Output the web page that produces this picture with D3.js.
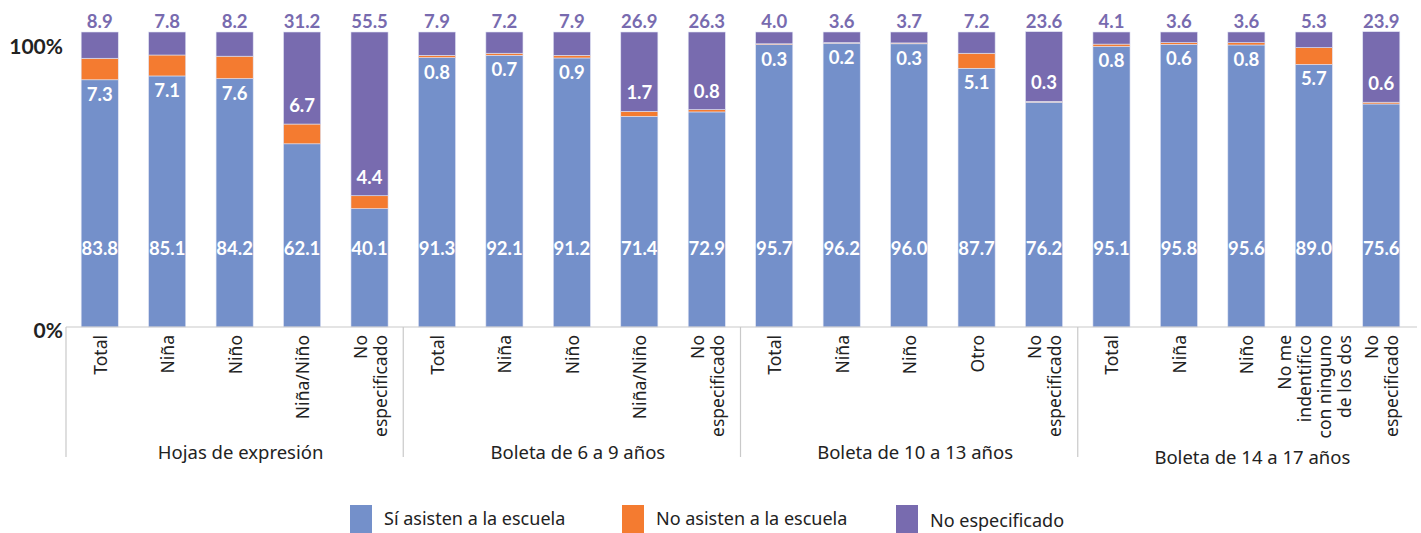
<!DOCTYPE html>
<html lang="es">
<head>
<meta charset="UTF-8">
<title>Asistencia escolar por sexo</title>
<script src="https://d3js.org/d3.v7.min.js"></script>
<style>
    body { margin: 0; background: #fff; }
    .num { font-family: Lato, "Noto Sans", sans-serif; font-weight: 700; }
    .cat { font-family: "Noto Sans", "Open Sans", sans-serif; font-size: 17.5px; fill: #222; }
    .grp { font-family: "Noto Sans", "Open Sans", sans-serif; font-size: 18.5px; fill: #222; }
    .leg { font-family: "Noto Sans", sans-serif; font-size: 18px; fill: #222; }
</style>
</head>
<body>
<svg id="chart"></svg>
<script>
    // groups of the survey and the categories inside each group
    const groups = ['Hojas de expresión', 'Boleta de 6 a 9 años', 'Boleta de 10 a 13 años', 'Boleta de 14 a 17 años'];
    const categories = [
        ['Total', 'Niña', 'Niño', 'Niña/Niño', 'No|especificado'],
        ['Total', 'Niña', 'Niño', 'Niña/Niño', 'No|especificado'],
        ['Total', 'Niña', 'Niño', 'Otro', 'No|especificado'],
        ['Total', 'Niña', 'Niño', 'No me|indentifico|con ninguno|de los dos', 'No|especificado']
    ];

    // percentages, one entry per bar (same order as categories)
    const siAsisten = [83.8, 85.1, 84.2, 62.1, 40.1, 91.3, 92.1, 91.2, 71.4, 72.9, 95.7, 96.2, 96.0, 87.7, 76.2, 95.1, 95.8, 95.6, 89.0, 75.6];
    const noAsisten = [7.3, 7.1, 7.6, 6.7, 4.4, 0.8, 0.7, 0.9, 1.7, 0.8, 0.3, 0.2, 0.3, 5.1, 0.3, 0.8, 0.6, 0.8, 5.7, 0.6];
    const noEspecificado = [8.9, 7.8, 8.2, 31.2, 55.5, 7.9, 7.2, 7.9, 26.9, 26.3, 4.0, 3.6, 3.7, 7.2, 23.6, 4.1, 3.6, 3.6, 5.3, 23.9];

    const seriesNames = ['Sí asisten a la escuela', 'No asisten a la escuela', 'No especificado'];
    const colors = ['#7490CA', '#F47B30', '#786BAF'];

    const width = 1421, height = 533;
    const svg = d3.select('#chart').attr('width', width).attr('height', height);

    // build rows for the stack
    const rows = [];
    categories.forEach((cats, gi) => {
        cats.forEach((c, ci) => {
            const i = rows.length;
            rows.push({ key: gi + '-' + ci, group: gi, label: c, si: siAsisten[i], no: noAsisten[i], ne: noEspecificado[i] });
        });
    });

    const x = d3.scaleBand().domain(rows.map(d => d.key)).range([66, 1415]).paddingInner(0.45).paddingOuter(0.225);
    const y = d3.scaleLinear().domain([0, 100]).range([327, 32]);
    const color = d3.scaleOrdinal().domain(['si', 'no', 'ne']).range(colors);

    const stack = d3.stack().keys(['si', 'no', 'ne']);
    const stacked = stack(rows);

    // bars
    svg.append('g').selectAll('g')
        .data(stacked)
        .join('g')
        .attr('fill', d => color(d.key))
        .selectAll('rect')
        .data(d => d)
        .join('rect')
        .attr('x', d => x(d.data.key))
        .attr('width', x.bandwidth())
        .attr('y', d => y(d[1]))
        .attr('height', d => y(d[0]) - y(d[1]))
        .attr('stroke', '#dfe3f3')
        .attr('stroke-width', 0.6);

    // axis line at 0%
    svg.append('line')
        .attr('x1', 66).attr('x2', 1417)
        .attr('y1', y(0)).attr('y2', y(0))
        .attr('stroke', '#c9c9c9').attr('stroke-width', 1.2);

    // group separators
    const groupStarts = groups.map((g, gi) => x(gi + '-0') - x.step() * x.paddingOuter());
    svg.append('g').selectAll('line')
        .data(groupStarts)
        .join('line')
        .attr('x1', d => d).attr('x2', d => d)
        .attr('y1', y(0)).attr('y2', 457)
        .attr('stroke', '#c9c9c9').attr('stroke-width', 1.2);

    // y tick labels
    svg.append('text').attr('class', 'num').attr('x', 63).attr('y', y(100) + 13)
        .attr('text-anchor', 'end').attr('dominant-baseline', 'central')
        .attr('font-size', 21).attr('fill', '#222').text('100%');
    svg.append('text').attr('class', 'num').attr('x', 63).attr('y', y(0) + 2)
        .attr('text-anchor', 'end').attr('dominant-baseline', 'central')
        .attr('font-size', 21).attr('fill', '#222').text('0%');

    const fmt = d3.format('.1f');
    const cx = d => x(d.key) + x.bandwidth() / 2;

    // value labels
    const labels = svg.append('g').attr('class', 'num').attr('font-size', 18.5).attr('text-anchor', 'middle')
        .attr('dominant-baseline', 'central');

    labels.selectAll('.top')
        .data(rows)
        .join('text')
        .attr('class', 'top')
        .attr('x', cx).attr('y', 21)
        .attr('fill', colors[2])
        .text(d => fmt(d.ne));

    labels.selectAll('.mid')
        .data(rows)
        .join('text')
        .attr('class', 'mid')
        .attr('x', cx)
        .attr('y', d => d.ne > 20 ? y(d.si + d.no) - 19 : y(d.si) + 14)
        .attr('fill', '#fff')
        .text(d => fmt(d.no));

    labels.selectAll('.low')
        .data(rows)
        .join('text')
        .attr('class', 'low')
        .attr('x', cx).attr('y', y(26.8))
        .attr('fill', '#fff')
        .text(d => fmt(d.si));

    // rotated category labels
    const cat = svg.append('g').selectAll('g')
        .data(rows)
        .join('g')
        .attr('transform', d => `translate(${cx(d)},335) rotate(-90)`);

    cat.selectAll('text')
        .data(d => d.label.split('|').map((t, i, a) => ({ t, off: (i - (a.length - 1) / 2) * 20 })))
        .join('text')
        .attr('class', 'cat')
        .attr('x', 0).attr('y', d => d.off)
        .attr('text-anchor', 'end')
        .attr('dominant-baseline', 'central')
        .text(d => d.t);

    // group labels
    svg.append('g').selectAll('text')
        .data(groups)
        .join('text')
        .attr('class', 'grp')
        .attr('x', (d, gi) => {
            const first = x(gi + '-0');
            const last = x(gi + '-' + (categories[gi].length - 1)) + x.bandwidth();
            return (first + last) / 2 + 6;
        })
        .attr('y', (d, gi) => gi === 3 ? 456 : 451)
        .attr('text-anchor', 'middle')
        .attr('dominant-baseline', 'central')
        .text(d => d);

    // legend
    const legX = [350, 622, 896];
    const leg = svg.append('g').selectAll('g')
        .data(seriesNames)
        .join('g')
        .attr('transform', (d, i) => `translate(${legX[i]},505)`);
    leg.append('rect').attr('width', 22).attr('height', 28).attr('fill', (d, i) => colors[i]);
    leg.append('text').attr('class', 'leg')
        .attr('x', 34).attr('y', (d, i) => i === 2 ? 15 : 13)
        .attr('dominant-baseline', 'central')
        .text(d => d);
</script>
</body>
</html>
